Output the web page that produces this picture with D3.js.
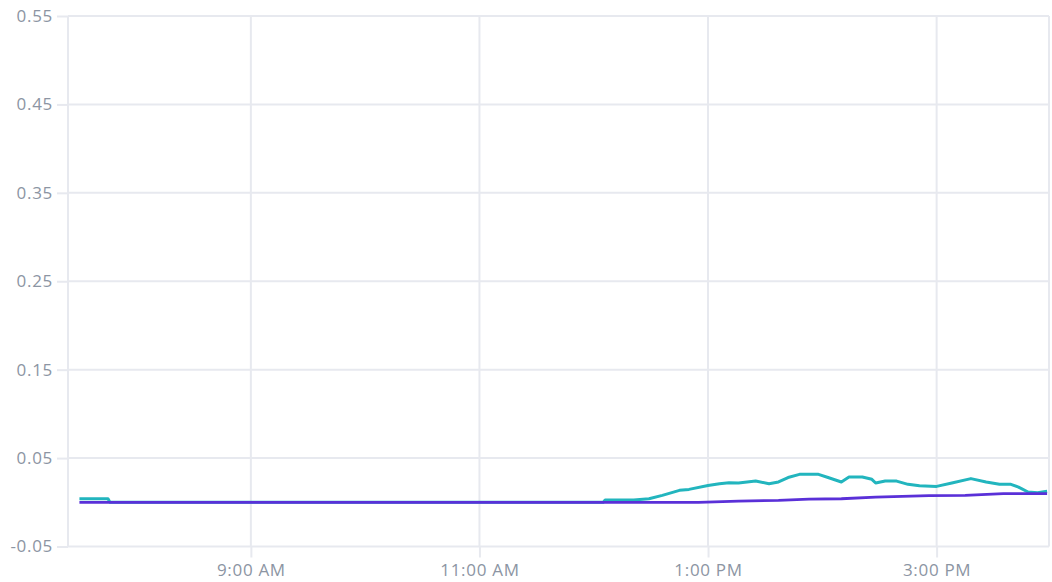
<!DOCTYPE html>
<html>
<head>
<meta charset="utf-8">
<script src="https://cdn.jsdelivr.net/npm/d3@7"></script>
<style>
  html, body { margin: 0; padding: 0; background: #fff; }
  .axis text { font-family: "Open Sans", sans-serif; font-size: 17px; letter-spacing: 0.7px; fill: #8c95a3; }
</style>
</head>
<body>
<div id="chart"></div>
<script>
const cyanTimes = ["07:30","07:45","07:46","12:05","12:06","12:21","12:29","12:36","12:45","12:50",
  "13:00","13:06","13:11","13:16","13:25","13:32","13:37","13:42","13:48","13:58",
  "14:03","14:10","14:14","14:21","14:26","14:28","14:33","14:39","14:45","14:51",
  "15:00","15:08","15:18","15:26","15:33","15:39","15:43","15:48","15:53","15:58"]
const cyanValues = [0.004,0.004,0,0,0.0025,0.0025,0.004,0.0078,0.0135,0.0146,
  0.019,0.021,0.022,0.0218,0.024,0.021,0.023,0.028,0.0316,0.0316,
  0.028,0.023,0.0286,0.0286,0.026,0.0218,0.024,0.024,0.0203,0.0186,
  0.018,0.0218,0.0268,0.023,0.0203,0.0203,0.0172,0.0116,0.0109,0.0124]

const purpleTimes = ["07:30","12:55","13:16","13:37","13:53","14:10","14:28","14:56","15:15","15:35","15:58"]
const purpleValues = [0,0,0.0014,0.0022,0.0036,0.004,0.0059,0.0075,0.0078,0.0097,0.0097]

const xTickTimes = ["09:00","11:00","13:00","15:00"]
const yTicks = [-0.05,0.05,0.15,0.25,0.35,0.45,0.55]

const MARGIN = {TOP:16, BOTTOM:35.5, LEFT:68, RIGHT:3}
const WIDTH = 1052 - MARGIN.LEFT - MARGIN.RIGHT
const HEIGHT = 582 - MARGIN.TOP - MARGIN.BOTTOM

const parse = d3.timeParse("%H:%M")

const svg = d3.select("#chart")
  .append("svg")
  .attr("width", 1052)
  .attr("height", 582)
  .append("g")
  .attr("transform", `translate(${MARGIN.LEFT}, ${MARGIN.TOP})`)

const x = d3.scaleTime()
  .domain([parse("07:24"), parse("15:59")])
  .range([0, WIDTH])

const y = d3.scaleLinear()
  .domain([-0.05, 0.55])
  .range([HEIGHT, 0])

const gridColor = "#e7e9ef"

// grid
svg.append("g")
  .selectAll("line.h")
  .data(yTicks)
  .enter().append("line")
  .attr("x1", 0).attr("x2", WIDTH)
  .attr("y1", d => y(d)).attr("y2", d => y(d))
  .attr("stroke", gridColor).attr("stroke-width", 2)

svg.append("g")
  .selectAll("line.v")
  .data(xTickTimes.map(parse))
  .enter().append("line")
  .attr("x1", d => x(d)).attr("x2", d => x(d))
  .attr("y1", 0).attr("y2", HEIGHT)
  .attr("stroke", gridColor).attr("stroke-width", 2)

// left and right borders
svg.append("line").attr("x1", 0).attr("x2", 0).attr("y1", 0).attr("y2", HEIGHT)
  .attr("stroke", gridColor).attr("stroke-width", 2)
svg.append("line").attr("x1", WIDTH).attr("x2", WIDTH).attr("y1", 0).attr("y2", HEIGHT)
  .attr("stroke", gridColor).attr("stroke-width", 2)

// axes
const xAxisCall = d3.axisBottom(x)
  .tickValues(xTickTimes.map(parse))
  .tickFormat(d3.timeFormat("%-I:%M %p"))
  .tickSize(11)
  .tickPadding(6)
svg.append("g")
  .attr("class", "axis")
  .attr("transform", `translate(0,${HEIGHT})`)
  .call(xAxisCall)

const fmt = d3.format(".2f")
const yAxisCall = d3.axisLeft(y)
  .tickValues(yTicks)
  .tickFormat(d => fmt(d).replace("\u2212", "-"))
  .tickSize(11)
  .tickPadding(4)
svg.append("g")
  .attr("class", "axis")
  .call(yAxisCall)

svg.selectAll(".axis .domain").remove()
svg.selectAll(".axis .tick line").attr("stroke", gridColor).attr("stroke-width", 2)

// lines
const line = d3.line()
  .x(d => x(d.t))
  .y(d => y(d.v))

const cyan = cyanTimes.map((t, i) => ({t: parse(t), v: cyanValues[i]}))
const purple = purpleTimes.map((t, i) => ({t: parse(t), v: purpleValues[i]}))

svg.append("path")
  .datum(cyan)
  .attr("d", line)
  .attr("fill", "none")
  .attr("stroke", "#22b5be")
  .attr("stroke-width", 3)
  .attr("stroke-linejoin", "round")

svg.append("path")
  .datum(purple)
  .attr("d", line)
  .attr("fill", "none")
  .attr("stroke", "#5a30d8")
  .attr("stroke-width", 2.8)
  .attr("stroke-linejoin", "round")
</script>
</body>
</html>
